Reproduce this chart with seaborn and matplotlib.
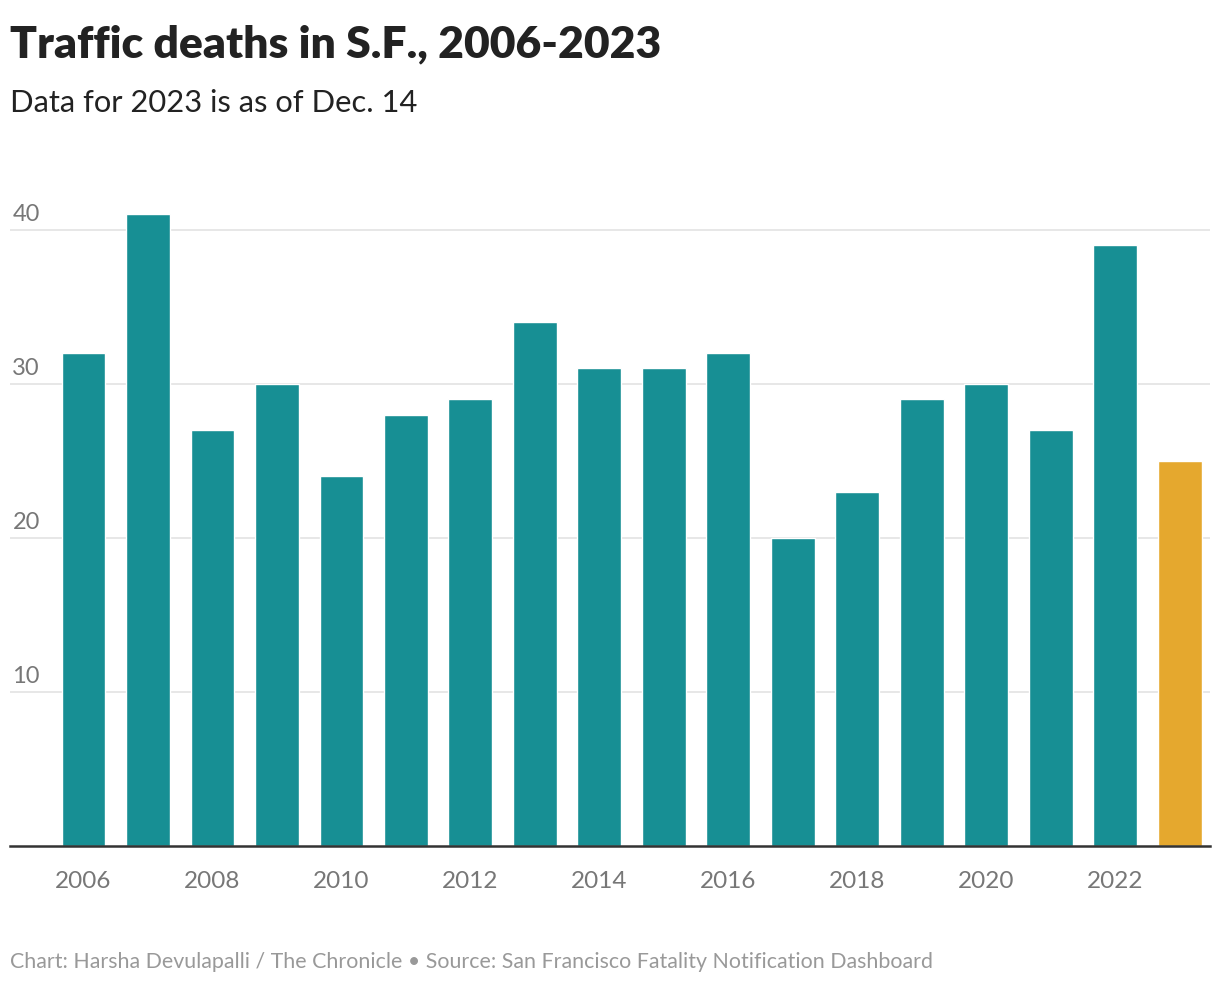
import matplotlib
matplotlib.use("Agg")
import matplotlib.pyplot as plt
import matplotlib.transforms as mtransforms
import seaborn as sns
import pandas as pd

years = [2006, 2007, 2008, 2009, 2010, 2011, 2012, 2013, 2014, 2015, 2016, 2017, 2018, 2019, 2020, 2021, 2022, 2023]
deaths = [32, 41, 27, 30, 24, 28, 29, 34, 31, 31, 32, 20, 23, 29, 30, 27, 39, 25]
status = ["full"] * 17 + ["partial"]
y_ticks = [10, 20, 30, 40]
x_tick_years = [2006, 2008, 2010, 2012, 2014, 2016, 2018, 2020, 2022]

title = "Traffic deaths in S.F., 2006-2023"
subtitle = "Data for 2023 is as of Dec. 14"
footer = "Chart: Harsha Devulapalli / The Chronicle \u2022 Source: San Francisco Fatality Notification Dashboard"

TEAL = "#178F94"
GOLD = "#E5A82E"

sns.set_theme(style="white")
plt.rcParams["font.family"] = ["Lato", "DejaVu Sans"]

df = pd.DataFrame({"year": [str(y) for y in years], "deaths": deaths, "status": status})

fig = plt.figure(figsize=(12.2, 10.04), dpi=100)
ax = fig.add_axes([10 / 1220, 1 - 847 / 1004, 1200 / 1220, (847 - 200) / 1004])

sns.barplot(data=df, x="year", y="deaths", hue="status",
            palette={"full": TEAL, "partial": GOLD}, dodge=False,
            width=0.68, legend=False, ax=ax, saturation=1)

ax.set_ylim(0, 42)
ax.set_xlim(-1.14, 17.47)
ax.set_yticks(y_ticks)
ax.yaxis.grid(True, color="#e3e3e3", linewidth=1.2)
ax.set_axisbelow(True)
ax.tick_params(axis="y", left=False, labelleft=False)
for s in ["top", "right", "left"]:
    ax.spines[s].set_visible(False)
ax.spines["bottom"].set_color("#333333")
ax.spines["bottom"].set_linewidth(1.8)

trans = mtransforms.blended_transform_factory(ax.transAxes, ax.transData)
for t in y_ticks:
    ax.text(0.002, t + 0.4, str(t), transform=trans, ha="left", va="bottom",
            fontsize=17, color="#777777")

positions = [years.index(y) for y in x_tick_years]
ax.set_xticks(positions)
ax.set_xticklabels([str(y) for y in x_tick_years], fontsize=17.5, color="#777777")
ax.tick_params(axis="x", bottom=False, pad=11)
ax.set_xlabel("")
ax.set_ylabel("")

fig.text(10 / 1220, 1 - 57 / 1004, title, fontsize=32, fontweight="heavy",
         color="#222222", ha="left", va="baseline")
fig.text(10 / 1220, 1 - 112 / 1004, subtitle, fontsize=22.2, fontweight="normal",
         color="#222222", ha="left", va="baseline")
fig.text(10 / 1220, 1 - 968 / 1004, footer, fontsize=15.4, color="#999999",
         ha="left", va="baseline")

fig.savefig("out.png", dpi=100, facecolor="white")
